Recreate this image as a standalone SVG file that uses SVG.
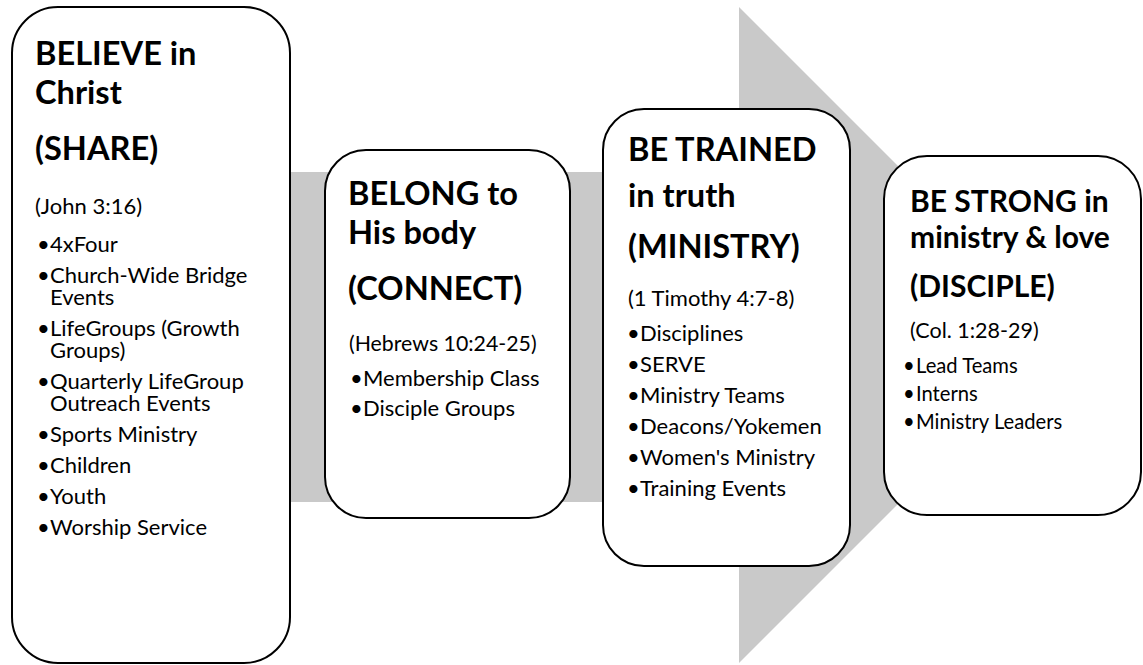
<svg xmlns="http://www.w3.org/2000/svg" width="1143" height="665" viewBox="0 0 1143 665">
<style>
.box{fill:#ffffff;stroke:#000000;stroke-width:2}
.arrow{fill:#c9c9c9;stroke:none}
text{font-family:Lato,"Liberation Sans",sans-serif;fill:#000000}
.t{font-weight:bold;font-size:32.6px}
.b{font-size:22px}
.r2{font-size:21.3px}
.t4{font-weight:bold;font-size:30px}
.r4{font-size:21.5px}
.b4{font-size:20.2px}
</style>
<rect width="1143" height="665" fill="#ffffff"/>
<g id="connectors">
<path class="arrow" d="M12,172 H739 V7 L1067,335 L739,663 V502 H12 Z"/>
</g>
<g id="node-believe">
<rect class="box" x="12" y="7" width="278" height="656" rx="46" ry="46"/>
<text class="t" x="35" y="65">BELIEVE in</text>
<text class="t" x="35" y="104">Christ</text>
<text class="t" x="35" y="160">(SHARE)</text>
<text class="b" x="35" y="214">(John 3:16)</text>
<text class="b"><tspan x="37" y="252">•</tspan><tspan x="50" y="252">4xFour</tspan></text>
<text class="b"><tspan x="37" y="283">•</tspan><tspan x="50" y="283">Church-Wide Bridge</tspan><tspan x="50" y="305">Events</tspan></text>
<text class="b"><tspan x="37" y="336">•</tspan><tspan x="50" y="336">LifeGroups (Growth</tspan><tspan x="50" y="358">Groups)</tspan></text>
<text class="b"><tspan x="37" y="389">•</tspan><tspan x="50" y="389">Quarterly LifeGroup</tspan><tspan x="50" y="411">Outreach Events</tspan></text>
<text class="b"><tspan x="37" y="442">•</tspan><tspan x="50" y="442">Sports Ministry</tspan></text>
<text class="b"><tspan x="37" y="473">•</tspan><tspan x="50" y="473">Children</tspan></text>
<text class="b"><tspan x="37" y="504">•</tspan><tspan x="50" y="504">Youth</tspan></text>
<text class="b"><tspan x="37" y="535">•</tspan><tspan x="50" y="535">Worship Service</tspan></text>
</g>
<g id="node-belong">
<rect class="box" x="325" y="150" width="245" height="368" rx="41" ry="41"/>
<text class="t" x="348" y="205">BELONG to</text>
<text class="t" x="348" y="244">His body</text>
<text class="t" x="348" y="300">(CONNECT)</text>
<text class="r2" x="349" y="351">(Hebrews 10:24-25)</text>
<text class="b"><tspan x="350" y="386">•</tspan><tspan x="363" y="386">Membership Class</tspan></text>
<text class="b"><tspan x="350" y="416">•</tspan><tspan x="363" y="416">Disciple Groups</tspan></text>
</g>
<g id="node-trained">
<rect class="box" x="603" y="109" width="247" height="457" rx="41" ry="41"/>
<text class="t" x="628" y="161">BE TRAINED</text>
<text class="t" x="628" y="207">in truth</text>
<text class="t" x="628" y="258">(MINISTRY)</text>
<text class="b" x="628" y="306">(1 Timothy 4:7-8)</text>
<text class="b"><tspan x="627" y="341">•</tspan><tspan x="640" y="341">Disciplines</tspan></text>
<text class="b"><tspan x="627" y="372">•</tspan><tspan x="640" y="372">SERVE</tspan></text>
<text class="b"><tspan x="627" y="403">•</tspan><tspan x="640" y="403">Ministry Teams</tspan></text>
<text class="b"><tspan x="627" y="434">•</tspan><tspan x="640" y="434">Deacons/Yokemen</tspan></text>
<text class="b"><tspan x="627" y="465">•</tspan><tspan x="640" y="465">Women's Ministry</tspan></text>
<text class="b"><tspan x="627" y="496">•</tspan><tspan x="640" y="496">Training Events</tspan></text>
</g>
<g id="node-strong">
<rect class="box" x="884" y="156" width="257" height="359" rx="43" ry="43"/>
<text class="t4" x="910" y="212">BE STRONG in</text>
<text class="t4" x="910" y="248">ministry &amp; love</text>
<text class="t4" x="910" y="297">(DISCIPLE)</text>
<text class="r4" x="910" y="338">(Col. 1:28-29)</text>
<text class="b4"><tspan x="903" y="373">•</tspan><tspan x="916" y="373">Lead Teams</tspan></text>
<text class="b4"><tspan x="903" y="401">•</tspan><tspan x="916" y="401">Interns</tspan></text>
<text class="b4"><tspan x="903" y="429">•</tspan><tspan x="916" y="429">Ministry Leaders</tspan></text>
</g>
</svg>
